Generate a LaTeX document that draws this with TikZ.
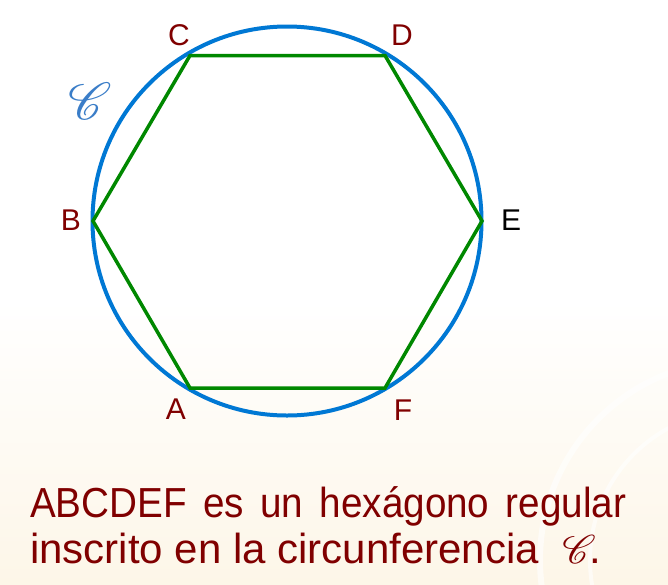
\documentclass[tikz,border=0pt]{standalone}
\usepackage{fontspec}
\setmainfont{Liberation Sans}
\newfontfamily\bodyfont{Liberation Sans}
\newfontfamily\bodyfontc[FakeStretch=0.92]{Liberation Sans}
\font\scrbig=rsfs10 at 52pt
\font\scrtxt=rsfs10 at 40pt
\definecolor{circblue}{RGB}{0,120,212}
\definecolor{hexgreen}{RGB}{0,136,0}
\definecolor{lblred}{RGB}{128,0,0}
\definecolor{scrblue}{RGB}{58,125,200}
\definecolor{cream}{RGB}{253,246,232}
\begin{document}
\begin{tikzpicture}[x=1pt,y=-1pt,
  lbl/.style={font=\fontsize{30}{32}\selectfont, text=lblred, inner sep=0pt},
  body/.style={font=\bodyfont\fontsize{42}{46}\selectfont, text=lblred, inner sep=0pt, anchor=base west}]
\useasboundingbox (0,0) rectangle (668,584);
\fill[white] (0,0) rectangle (668,300);
\shade[top color=white, bottom color=cream] (0,300) rectangle (668,584);
\draw[white, line width=6pt, opacity=0.6] (740,560) circle[radius=200];
\draw[white, line width=4pt, opacity=0.6] (740,560) circle[radius=150];
% circle
\node[draw=circblue, line width=4pt, circle, minimum size=389pt, inner sep=0pt] (circ) at (287,221) {};
% hexagon vertices
\coordinate (A) at (190,388);
\coordinate (B) at (93,221);
\coordinate (C) at (190,55.5);
\coordinate (D) at (385,55.5);
\coordinate (E) at (482,221);
\coordinate (F) at (385,388);
\draw[hexgreen, line width=3.5pt, line join=miter] (A) -- (B) -- (C) -- (D) -- (E) -- (F) -- cycle;
% labels
\node[lbl] (lC) at (179,35) {C};
\node[lbl] (lD) at (402,35) {D};
\node[lbl, text=black] (lE) at (511,220) {E};
\node[lbl] (lB) at (71,220) {B};
\node[lbl] (lA) at (176,409) {A};
\node[lbl] (lF) at (403,410) {F};
% script C
\node[text=scrblue, inner sep=0pt] (sc) at (86,101) {\scrbig C};
% bottom text
\node[body, font=\bodyfontc\fontsize{42}{46}\selectfont] (t1) at (30,517) {\makebox[596pt][s]{ABCDEF es un hexágono regular}};
\node[body] (t2) at (30,563) {inscrito en la circunferencia\ \ \smash{\scrtxt C}.};
\end{tikzpicture}
\end{document}
